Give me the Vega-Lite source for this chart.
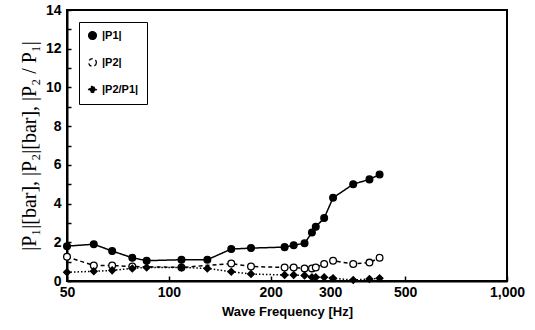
{
  "$schema": "https://vega.github.io/schema/vega-lite/v6.json",
  "width": 440,
  "height": 271,
  "autosize": {"type": "none"},
  "padding": {"left": 67, "top": 10, "right": 28, "bottom": 49},
  "background": "white",
  "config": {
    "view": {"stroke": "black", "strokeWidth": 2},
    "axis": {"grid": false, "domainColor": "black", "domainWidth": 2, "tickColor": "black", "tickWidth": 1.5, "labelColor": "black", "labelFont": "Liberation Sans", "labelFontWeight": 700, "labelFontSize": 14, "titleColor": "black"},
    "legend": {
      "orient": "top-left", "offset": 12, "strokeColor": "black", "fillColor": "white", "padding": 8,
      "labelFont": "Liberation Sans", "labelFontWeight": 700, "labelFontSize": 11, "labelColor": "black",
      "symbolSize": 60, "rowPadding": 14, "symbolStrokeWidth": 1.3, "symbolStrokeColor": "black"
    }
  },
  "data": {"values": [
    {"f": 50, "s": "|P1|", "v": 1.8},
    {"f": 60, "s": "|P1|", "v": 1.9},
    {"f": 68, "s": "|P1|", "v": 1.55},
    {"f": 78, "s": "|P1|", "v": 1.2},
    {"f": 86, "s": "|P1|", "v": 1.05},
    {"f": 109, "s": "|P1|", "v": 1.1},
    {"f": 130, "s": "|P1|", "v": 1.1},
    {"f": 153, "s": "|P1|", "v": 1.65},
    {"f": 175, "s": "|P1|", "v": 1.7},
    {"f": 220, "s": "|P1|", "v": 1.75},
    {"f": 234, "s": "|P1|", "v": 1.85},
    {"f": 252, "s": "|P1|", "v": 1.95},
    {"f": 265, "s": "|P1|", "v": 2.5},
    {"f": 272, "s": "|P1|", "v": 2.8},
    {"f": 288, "s": "|P1|", "v": 3.25},
    {"f": 306, "s": "|P1|", "v": 4.3},
    {"f": 351, "s": "|P1|", "v": 5.0},
    {"f": 392, "s": "|P1|", "v": 5.25},
    {"f": 420, "s": "|P1|", "v": 5.5},
    {"f": 50, "s": "|P2|", "v": 1.25},
    {"f": 60, "s": "|P2|", "v": 0.8},
    {"f": 68, "s": "|P2|", "v": 0.8},
    {"f": 78, "s": "|P2|", "v": 0.75},
    {"f": 109, "s": "|P2|", "v": 0.7},
    {"f": 153, "s": "|P2|", "v": 0.9},
    {"f": 175, "s": "|P2|", "v": 0.75},
    {"f": 220, "s": "|P2|", "v": 0.7},
    {"f": 234, "s": "|P2|", "v": 0.7},
    {"f": 252, "s": "|P2|", "v": 0.65},
    {"f": 265, "s": "|P2|", "v": 0.65},
    {"f": 272, "s": "|P2|", "v": 0.7},
    {"f": 288, "s": "|P2|", "v": 0.88},
    {"f": 306, "s": "|P2|", "v": 1.05},
    {"f": 351, "s": "|P2|", "v": 0.88},
    {"f": 392, "s": "|P2|", "v": 0.95},
    {"f": 420, "s": "|P2|", "v": 1.2},
    {"f": 50, "s": "|P2/P1|", "v": 0.45},
    {"f": 60, "s": "|P2/P1|", "v": 0.5},
    {"f": 68, "s": "|P2/P1|", "v": 0.55},
    {"f": 78, "s": "|P2/P1|", "v": 0.65},
    {"f": 86, "s": "|P2/P1|", "v": 0.7},
    {"f": 109, "s": "|P2/P1|", "v": 0.7},
    {"f": 130, "s": "|P2/P1|", "v": 0.65},
    {"f": 153, "s": "|P2/P1|", "v": 0.48},
    {"f": 175, "s": "|P2/P1|", "v": 0.36},
    {"f": 220, "s": "|P2/P1|", "v": 0.31},
    {"f": 234, "s": "|P2/P1|", "v": 0.31},
    {"f": 252, "s": "|P2/P1|", "v": 0.28},
    {"f": 265, "s": "|P2/P1|", "v": 0.19},
    {"f": 272, "s": "|P2/P1|", "v": 0.19},
    {"f": 288, "s": "|P2/P1|", "v": 0.19},
    {"f": 306, "s": "|P2/P1|", "v": 0.14},
    {"f": 351, "s": "|P2/P1|", "v": 0.05},
    {"f": 392, "s": "|P2/P1|", "v": 0.1},
    {"f": 420, "s": "|P2/P1|", "v": 0.14}
  ]},
  "encoding": {
    "x": {"field": "f", "type": "quantitative",
      "scale": {"type": "log", "domain": [50, 1000], "nice": false},
      "axis": {"values": [50, 100, 200, 300, 500, 1000], "format": ",", "title": "Wave Frequency [Hz]", "titleFont": "Liberation Sans", "titleFontWeight": 700, "titleFontSize": 13, "titlePadding": 6, "tickSize": -5, "labelPadding": 9, "labelFlush": false}},
    "y": {"field": "v", "type": "quantitative",
      "scale": {"domain": [0, 14], "nice": false},
      "axis": {"values": [0,1,2,3,4,5,6,7,8,9,10,11,12,13,14], "labelExpr": "datum.value % 2 == 0 ? datum.label : ''", "tickSize": -4, "labelPadding": 10, "title": "|P₁|[bar], |P₂|[bar], |P₂ / P₁|", "titleFont": "Liberation Serif", "titleFontSize": 20, "titleFontWeight": "normal", "titlePadding": 6}}
  },
  "layer": [
    {
      "mark": {"type": "line", "color": "black", "strokeWidth": 1.5},
      "encoding": {
        "strokeDash": {"field": "s", "type": "nominal", "title": null,
          "scale": {"domain": ["|P1|", "|P2|", "|P2/P1|"], "range": [[1, 0], [4, 3], [1.5, 2]]},
          "legend": {
            "encode": {
              "symbols": {"update": {
                "stroke": {"value": "black"},
                "strokeWidth": {"value": 1.3}
              }}
            }
          }}
      }
    },
    {
      "mark": {"type": "point", "stroke": "black", "strokeWidth": 1.3, "opacity": 1, "size": 45},
      "encoding": {
        "shape": {"field": "s", "type": "nominal", "title": null,
          "scale": {"domain": ["|P1|", "|P2|", "|P2/P1|"], "range": ["circle", "circle", "diamond"]}},
        "fill": {"field": "s", "type": "nominal", "title": null,
          "scale": {"domain": ["|P1|", "|P2|", "|P2/P1|"], "range": ["black", "white", "black"]}}
      }
    }
  ]
}
